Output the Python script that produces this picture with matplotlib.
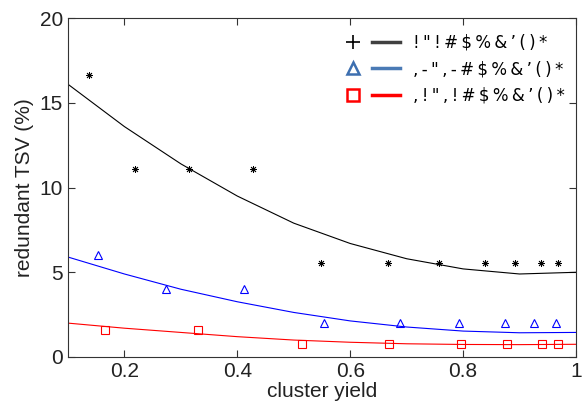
import matplotlib
matplotlib.use("Agg")
import matplotlib.pyplot as plt
from matplotlib.lines import Line2D
from matplotlib.legend_handler import HandlerTuple

plt.rcParams['font.family'] = ['Liberation Sans', 'DejaVu Sans']

# scatter data
x_black = [0.137, 0.219, 0.314, 0.428, 0.549, 0.667, 0.757, 0.839, 0.892, 0.938, 0.968]
y_black = [16.67, 11.11, 11.11, 11.11, 5.56, 5.56, 5.56, 5.56, 5.56, 5.56, 5.56]
x_blue = [0.154, 0.273, 0.412, 0.553, 0.688, 0.793, 0.875, 0.925, 0.965]
y_blue = [6.0, 4.0, 4.0, 2.0, 2.0, 2.0, 2.0, 2.0, 2.0]
x_red = [0.166, 0.33, 0.515, 0.668, 0.796, 0.877, 0.939, 0.968]
y_red = [1.6, 1.6, 0.78, 0.78, 0.78, 0.78, 0.78, 0.78]

# trend curves
x_fit = [0.1, 0.2, 0.3, 0.4, 0.5, 0.6, 0.7, 0.8, 0.9, 1.0]
fit_black = [16.1, 13.6, 11.4, 9.5, 7.9, 6.7, 5.8, 5.2, 4.9, 5.0]
fit_blue = [5.9, 4.9, 4.0, 3.26, 2.63, 2.13, 1.77, 1.53, 1.43, 1.45]
fit_red = [2.0, 1.7, 1.45, 1.2, 1.0, 0.87, 0.78, 0.74, 0.73, 0.75]

labels = ['!"!#$%&\u2019()*', ',-",-#$%&\u2019()*', ',!",!#$%&\u2019()*']

fig = plt.figure(figsize=(5.83, 4.13), dpi=100)
ax = fig.add_axes([0.1166, 0.1356, 0.8714, 0.8204])

ax.plot(x_fit, fit_black, color='black', lw=0.8)
ax.plot(x_fit, fit_blue, color='blue', lw=0.8)
ax.plot(x_fit, fit_red, color='red', lw=0.8)
ax.plot(x_black, y_black, ls='none', marker=(8, 2, 0), ms=5, color='black', mew=0.6)
ax.plot(x_blue, y_blue, ls='none', marker='^', ms=6, mfc='none', mec='blue', mew=0.8)
ax.plot(x_red, y_red, ls='none', marker='s', ms=6, mfc='none', mec='red', mew=0.8)

ax.set_xlim(0.1, 1.0)
ax.set_ylim(0, 20)
ax.set_xticks([0.2, 0.4, 0.6, 0.8, 1.0])
ax.set_xticklabels(['0.2', '0.4', '0.6', '0.8', '1'])
ax.set_yticks([0, 5, 10, 15, 20])
ax.tick_params(direction='in', top=True, right=True, labelsize=15, length=5,
               color='#333333', labelcolor='#222222')
for s in ax.spines.values():
    s.set_color('#333333')
ax.set_xlabel('cluster yield', fontsize=15, labelpad=1, color='#222222')
ax.set_ylabel('redundant TSV (%)', fontsize=15, labelpad=4, color='#222222')

handles = [
    (Line2D([], [], ls='none', marker='+', ms=10, color='black', mew=1.2),
     Line2D([], [], color='#404040', lw=2.5)),
    (Line2D([], [], ls='none', marker='^', ms=9, mfc='none', mec='#3d6fb0', mew=1.8),
     Line2D([], [], color='#4a7ab5', lw=2.5)),
    (Line2D([], [], ls='none', marker='s', ms=8, mfc='none', mec='red', mew=1.8),
     Line2D([], [], color='red', lw=2.5)),
]
spaced = ['\u2009'.join(l) for l in labels]
ax.legend(handles, spaced, handler_map={tuple: HandlerTuple(ndivide=None, pad=0.3)},
          loc='upper right', bbox_to_anchor=(0.992, 0.973), frameon=False,
          handlelength=3.7, handletextpad=0.8, labelspacing=0.5, borderaxespad=0,
          prop={'family': 'DejaVu Sans', 'size': 12})

fig.savefig('out.png', dpi=100)
